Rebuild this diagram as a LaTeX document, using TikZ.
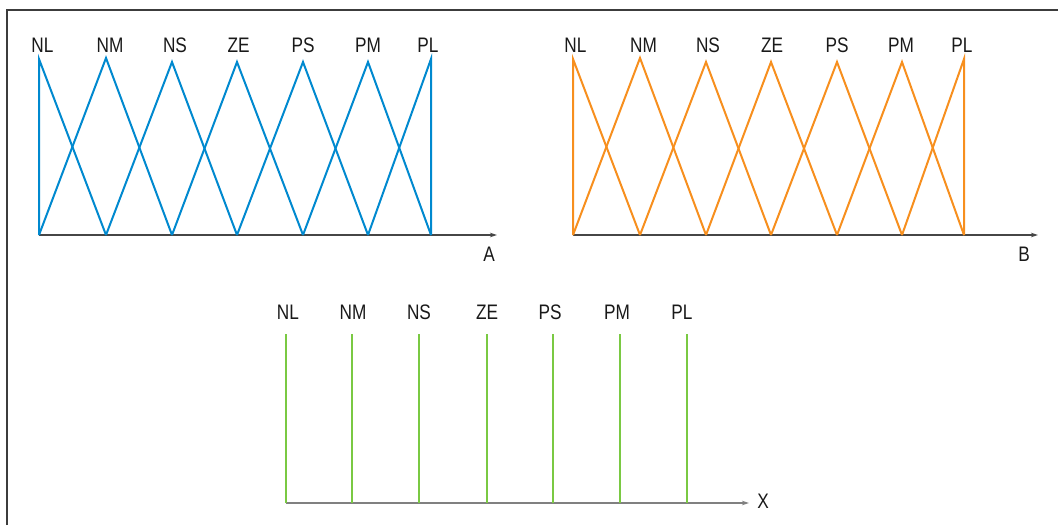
\documentclass[tikz,border=0pt]{standalone}
\usepackage{fontspec}
\setmainfont{Liberation Sans}[FakeStretch=0.82]
\usetikzlibrary{arrows.meta}

\definecolor{fzblue}{RGB}{0,137,207}
\definecolor{fzorange}{RGB}{247,143,30}
\definecolor{fzgreen}{RGB}{122,201,67}
\definecolor{framegray}{RGB}{60,60,60}
\definecolor{axisdark}{RGB}{70,70,70}
\definecolor{axislight}{RGB}{128,128,128}

\begin{document}
\begin{tikzpicture}[x=1pt,y=-1pt,
  lbl/.style={inner sep=0pt,font=\fontsize{21}{22}\selectfont,text=black!90},
  memb/.style={line width=2pt,line join=miter},
  axis/.style={line width=1.6pt,-{Stealth[length=7pt,width=4.5pt]}},
  frameline/.style={line width=1.6pt,draw=framegray}]
\useasboundingbox (0,0) rectangle (1058,525);

% outer frame (open to the right and bottom)
\coordinate (f1) at (7,525);
\coordinate (f2) at (7,10);
\coordinate (f3) at (1058,10);
\draw[frameline] (f1) -- (f2) -- (f3);

% ---------- input A : blue triangular sets ----------
\foreach \i/\x/\py/\lx/\t in {1/39/59/42.5/NL,2/106/58/110/NM,3/172/62/175/NS,
    4/237/62/238.5/ZE,5/303/62/303/PS,6/368/62/368/PM,7/431/59/428/PL}{
  \coordinate (ap\i) at (\x,\py);
  \coordinate (ab\i) at (\x,235);
  \node[lbl] (al\i) at (\lx,45.5) {\t};
}
\coordinate (aend) at (497,235);
\node[lbl] (aname) at (489,254) {A};
\draw[axis,draw=axisdark] (ab1) -- (aend);
\draw[memb,fzblue] (ab1) -- (ap1) -- (ab2);
\draw[memb,fzblue] (ab1) -- (ap2) -- (ab3);
\draw[memb,fzblue] (ab2) -- (ap3) -- (ab4);
\draw[memb,fzblue] (ab3) -- (ap4) -- (ab5);
\draw[memb,fzblue] (ab4) -- (ap5) -- (ab6);
\draw[memb,fzblue] (ab5) -- (ap6) -- (ab7);
\draw[memb,fzblue] (ab6) -- (ap7) -- (ab7);

% ---------- input B : orange triangular sets ----------
\foreach \i/\x/\py/\lx/\t in {1/573/59/575.5/NL,2/640/58/643.5/NM,3/706/62/708/NS,
    4/771/62/772/ZE,5/837/62/837/PS,6/902/62/901/PM,7/964/59/962/PL}{
  \coordinate (bp\i) at (\x,\py);
  \coordinate (bb\i) at (\x,235);
  \node[lbl] (bl\i) at (\lx,45.5) {\t};
}
\coordinate (bend) at (1038,235);
\node[lbl] (bname) at (1024,254) {B};
\draw[axis,draw=axisdark] (bb1) -- (bend);
\draw[memb,fzorange] (bb1) -- (bp1) -- (bb2);
\draw[memb,fzorange] (bb1) -- (bp2) -- (bb3);
\draw[memb,fzorange] (bb2) -- (bp3) -- (bb4);
\draw[memb,fzorange] (bb3) -- (bp4) -- (bb5);
\draw[memb,fzorange] (bb4) -- (bp5) -- (bb6);
\draw[memb,fzorange] (bb5) -- (bp6) -- (bb7);
\draw[memb,fzorange] (bb6) -- (bp7) -- (bb7);

% ---------- output X : green singletons ----------
\foreach \i/\x/\lx/\t in {1/286/288/NL,2/352/353/NM,3/419/419/NS,
    4/487/487/ZE,5/553/550/PS,6/620/617/PM,7/687/682/PL}{
  \coordinate (xp\i) at (\x,334);
  \coordinate (xb\i) at (\x,503);
  \node[lbl] (xl\i) at (\lx,312) {\t};
}
\coordinate (xend) at (749,503);
\node[lbl] (xname) at (763,501.5) {X};
\draw[axis,draw=axislight] (xb1) -- (xend);
\foreach \i in {1,...,7}{
  \draw[memb,fzgreen] (xb\i) -- (xp\i);
}
\end{tikzpicture}
\end{document}
